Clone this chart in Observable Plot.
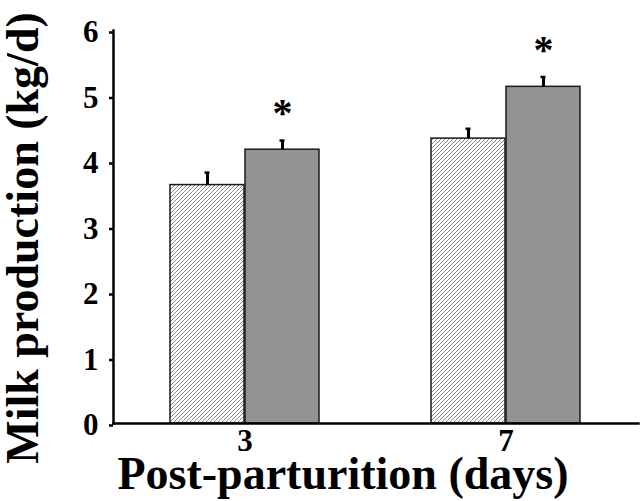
<!DOCTYPE html>
<html><head><meta charset="utf-8">
<script src="https://cdn.jsdelivr.net/npm/d3@7"></script>
<script src="https://cdn.jsdelivr.net/npm/@observablehq/plot@0.6"></script>
<style>html,body{margin:0;padding:0;background:#fff}</style>
</head><body><div id="chart"></div>
<script>
// ---- data ----
const days = ["3", "7"];
const controlMeans = [3.64, 4.35];
const controlErrors = [0.19, 0.15];
const treatedMeans = [4.18, 5.14];
const treatedErrors = [0.14, 0.15];
const significant = [true, true];
const yTicks = [0, 1, 2, 3, 4, 5, 6];
const yTitle = "Milk production (kg/d)";
const xTitle = "Post-parturition (days)";

const control = days.map((day, i) => ({day, value: controlMeans[i], top: controlMeans[i] + controlErrors[i]}));
const treated = days.map((day, i) => ({day, value: treatedMeans[i], top: treatedMeans[i] + treatedErrors[i], sig: significant[i]}));

const half = 75;
const patternDefs = () => {
  const defs = d3.create("svg:defs");
  const p = defs.append("pattern").attr("id", "hatch").attr("patternUnits", "userSpaceOnUse")
    .attr("width", 4).attr("height", 4);
  p.append("rect").attr("width", 4).attr("height", 4).attr("fill", "#fff");
  p.append("path").attr("d", "M-1,1 L1,-1 M0,4 L4,0 M3,5 L5,3")
    .attr("stroke", "#7a7a7a").attr("stroke-width", 0.9);
  return defs.node();
};

const chart = Plot.plot({
  width: 641, height: 501,
  marginLeft: 113, marginRight: 3, marginTop: 30, marginBottom: 78,
  style: {fontFamily: "'Liberation Serif', 'Times New Roman', serif", fontWeight: "bold", fontSize: "31px", background: "#fff", color: "#000"},
  x: {type: "band", domain: days, paddingInner: 0.4275, paddingOuter: 0.2158, align: 0.5},
  y: {domain: [0, 6]},
  marks: [
    patternDefs,
    Plot.barY(control, {x: "day", y: "value", insetRight: half, fill: "url(#hatch)", stroke: "#1a1a1a", strokeWidth: 1.5}),
    Plot.barY(treated, {x: "day", y: "value", insetLeft: half, fill: "#939393", stroke: "#1a1a1a", strokeWidth: 1.5}),
    Plot.ruleX(control, {x: "day", y1: "value", y2: "top", dx: -37.5, strokeWidth: 3, stroke: "#000"}),
    Plot.ruleX(treated, {x: "day", y1: "value", y2: "top", dx: 37.5, strokeWidth: 3, stroke: "#000"}),
    Plot.tickY(control, {x: "day", y: "top", dx: -37.5, insetLeft: 72, insetRight: 72, strokeWidth: 2.5, stroke: "#000"}),
    Plot.tickY(treated, {x: "day", y: "top", dx: 37.5, insetLeft: 72, insetRight: 72, strokeWidth: 2.5, stroke: "#000"}),
    Plot.text(treated.filter(d => d.sig), {x: "day", y: "top", dx: 37.5, dy: -27, text: () => "*", fontSize: 40, fill: "#000"}),
    Plot.frame({anchor: "left", strokeWidth: 2.5, stroke: "#000"}),
    Plot.frame({anchor: "bottom", strokeWidth: 2.5, stroke: "#000"}),
    Plot.axisY({ticks: yTicks, tickFormat: d => String(d), tickSize: 4, tickPadding: 11, strokeWidth: 2.5, label: null, dy: 2}),
    Plot.axisX({tickSize: 0, tickPadding: 5, label: null}),
    Plot.text([yTitle], {frameAnchor: "left", textAnchor: "middle", lineAnchor: "middle", dx: -90, dy: 11, rotate: -90, fontSize: 46, fill: "#000"}),
    Plot.text([xTitle], {frameAnchor: "bottom", textAnchor: "middle", lineAnchor: "middle", dx: -33, dy: 51, fontSize: 46, fill: "#000"})
  ]
});
document.getElementById("chart").appendChild(chart);
</script>
</body></html>
